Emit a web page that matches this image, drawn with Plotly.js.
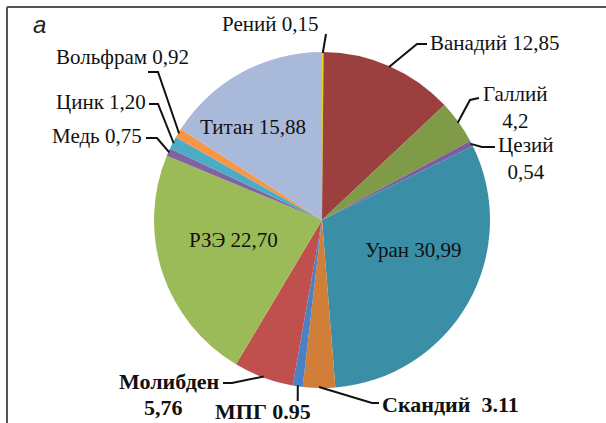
<!DOCTYPE html>
<html>
<head>
<meta charset="utf-8">
<script src="https://cdn.plot.ly/plotly-3.0.1.min.js"></script>
<style>html,body{margin:0;padding:0;background:#fff;}#chart{width:606px;height:423px;}</style>
</head>
<body>
<div id="chart"></div>
<script>
// ---- data ----
const names = ["Рений","Ванадий","Галлий","Цезий","Уран","Скандий","МПГ","Молибден","РЗЭ","Медь","Цинк","Вольфрам","Титан"];
const values = [0.15, 12.85, 4.2, 0.54, 30.99, 3.11, 0.95, 5.76, 22.70, 0.75, 1.20, 0.92, 15.88];
const labelTexts = ["Рений 0,15","Ванадий 12,85","Галлий<br>4,2","Цезий<br>0,54","Уран 30,99","Скандий\u00a0 3.11","МПГ 0.95","Молибден","РЗЭ 22,70","Медь 0,75","Цинк 1,20","Вольфрам 0,92","Титан 15,88"];
const colors = ["#e8d21a","#9b3f3f","#7f9b48","#7b5e9e","#3a8ea6","#d17e38","#4a80c4","#c0504d","#9bbb59","#8064a2","#4bacc6","#f79646","#a9b9d9"];

// ---- layout geometry (pixels) ----
const W = 606, H = 423;
const CX = 322, CY = 220, R = 168;
const px = x => x / W, py = y => 1 - y / H;

const total = values.reduce((a, b) => a + b, 0);
function edgePoint(i, rr) {
  let cum = 0;
  for (let k = 0; k < i; k++) cum += values[k];
  const mid = (cum + values[i] / 2) / total * 2 * Math.PI;
  return [CX + rr * Math.sin(mid), CY - rr * Math.cos(mid)];
}

// label placement: [x, y, xanchor, bold]
const labelPos = {
  0: [320, 24, "right", false],
  1: [428, 43, "left", false],
  2: [515, 108, "center", false],
  3: [526, 158, "center", false],
  4: [413, 250, "center", false],
  5: [380, 404, "left", true],
  6: [263, 411, "center", true],
  7: [222, 381, "right", true],
  8: [233, 240, "center", false],
  9: [144, 136, "right", false],
  10: [148, 102, "right", false],
  11: [191, 57, "right", false],
  12: [253, 127, "center", false]
};
// leader elbows (pixels), from slice edge outward
const leaderElbows = {
  0: [[326, 34]],
  1: [[417, 44], [427, 44]],
  2: [[470, 100], [479, 98]],
  3: [[482, 147], [495, 147]],
  5: [[372, 403], [379, 403]],
  6: [[297.7, 401]],
  7: [[232, 383], [223, 383]],
  9: [[157, 138], [146, 138]],
  10: [[158, 104], [149, 104]],
  11: [[158, 72], [148, 72]]
};

const FONT = "Liberation Serif";
const FS = 21, FSB = 22;
const annotations = [];
Object.keys(labelPos).forEach(k => {
  const [x, y, xa, bold] = labelPos[k];
  const font = bold ? {family: FONT, size: FSB, color: "#111", weight: 700}
                    : {family: FONT, size: FS, color: "#111"};
  annotations.push({
    xref: "paper", yref: "paper", x: px(x), y: py(y),
    xanchor: xa, yanchor: "middle", showarrow: false,
    text: labelTexts[k], align: "center", font: font
  });
});
annotations.push({
  xref: "paper", yref: "paper", x: px(163), y: py(407),
  xanchor: "center", yanchor: "middle", showarrow: false,
  text: "5,76", font: {family: FONT, size: FSB, color: "#111", weight: 700}
});
annotations.push({
  xref: "paper", yref: "paper", x: px(40), y: py(25),
  xanchor: "center", yanchor: "middle", showarrow: false,
  text: "а", font: {family: "Liberation Sans", size: 24, color: "#222", style: "italic"}
});

const shapes = [];
Object.keys(leaderElbows).forEach(k => {
  const pts = [edgePoint(+k, R - 1)].concat(leaderElbows[k]);
  let d = "M" + pts.map(p => px(p[0]) + "," + py(p[1])).join(" L");
  shapes.push({type: "path", xref: "paper", yref: "paper", path: d,
    line: {color: "#111", width: 2}});
});
// frame (left and top edges)
shapes.push({type: "line", xref: "paper", yref: "paper", x0: px(7), y0: py(7), x1: px(606), y1: py(7), line: {color: "#555", width: 2}});
shapes.push({type: "line", xref: "paper", yref: "paper", x0: px(7), y0: py(7), x1: px(7), y1: py(423), line: {color: "#555", width: 2}});

const trace = {
  type: "pie",
  labels: names,
  values: values,
  sort: false,
  direction: "clockwise",
  rotation: 0,
  textinfo: "none",
  hoverinfo: "label+value",
  marker: {colors: colors, line: {width: 0}},
  domain: {x: [px(CX - R), px(CX + R)], y: [py(CY + R), py(CY - R)]},
  showlegend: false
};

Plotly.newPlot("chart", [trace], {
  width: W, height: H,
  margin: {l: 0, r: 0, t: 0, b: 0},
  paper_bgcolor: "#fff",
  showlegend: false,
  annotations: annotations,
  shapes: shapes
}, {staticPlot: true});
</script>
</body>
</html>
